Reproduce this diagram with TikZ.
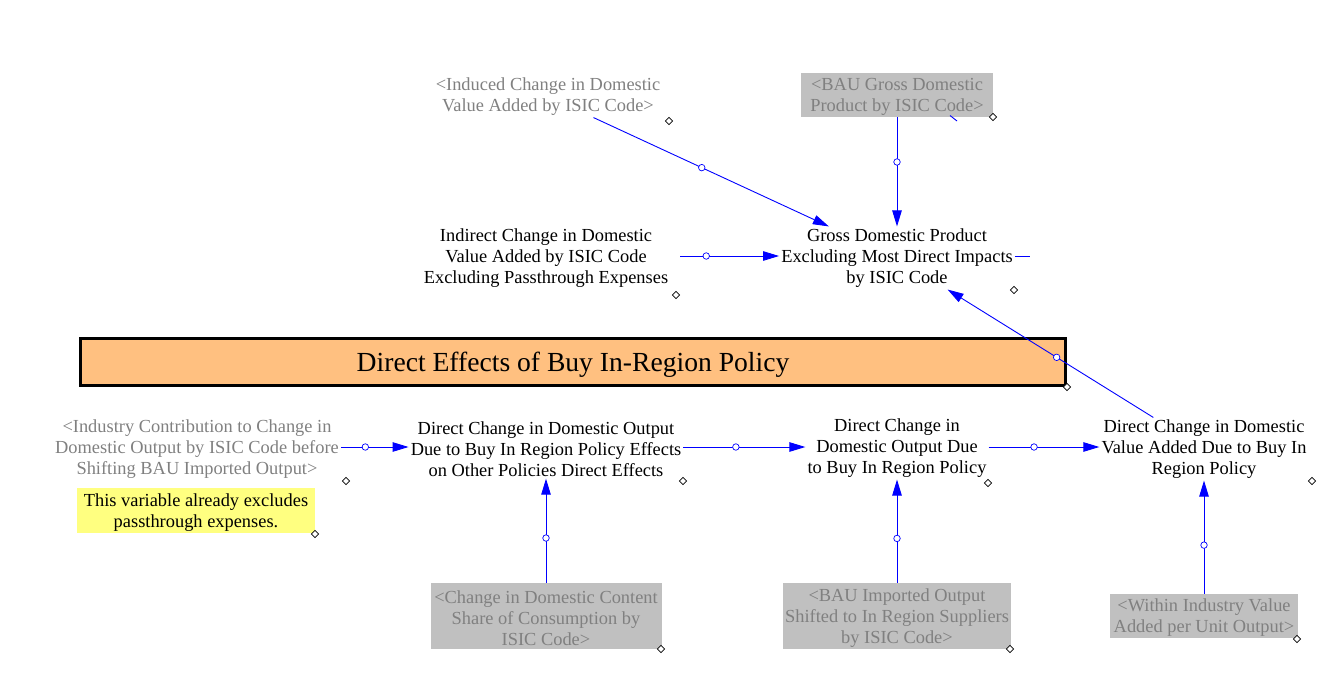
\documentclass[tikz,border=0pt]{standalone}
\usepackage{fontspec}
\setmainfont{Liberation Serif}
\usetikzlibrary{arrows.meta,shapes.geometric,calc}
\definecolor{vblue}{RGB}{0,0,255}
\definecolor{shadowtext}{RGB}{128,128,128}
\definecolor{shadowfill}{RGB}{192,192,192}
\definecolor{notefill}{RGB}{255,255,128}
\definecolor{titlefill}{RGB}{255,192,128}
\tikzset{
  var/.style={font=\fontsize{18.4bp}{21bp}\selectfont, align=center, inner sep=2bp},
  shadowvar/.style={var, text=shadowtext},
  graybox/.style={fill=shadowfill, inner sep=0pt},
  yellowbox/.style={fill=notefill, inner sep=0pt},
  titlebox/.style={draw=black, line width=3bp, fill=titlefill, inner sep=0pt},
  titletext/.style={font=\fontsize{27.6bp}{30bp}\selectfont, inner sep=0pt},
  conn/.style={draw=vblue, line width=0.9bp, -{Triangle[length=16bp,width=9.5bp]}},
  stub/.style={draw=vblue, line width=0.9bp},
  midc/.style={circle, draw=vblue, fill=white, line width=0.7bp, minimum size=6.5bp, inner sep=0pt},
  hdl/.style={diamond, draw=black, fill=white, line width=0.6bp, minimum size=7.5bp, inner sep=0pt},
}
\begin{document}
\begin{tikzpicture}[x=1bp,y=-1bp]
\useasboundingbox (0,0) rectangle (1335,686);

% title box
\node[titlebox, minimum width=985bp, minimum height=47bp] (titlebg) at (573,362) {};
\node[titletext] (title) at (573,365) {Direct Effects of Buy In-Region Policy};

% box backgrounds
\node[graybox, minimum width=192bp, minimum height=44bp] (baugdpbox) at (897,95) {};
\node[yellowbox, minimum width=238bp, minimum height=45bp] (notebox) at (196,510.5) {};
\node[graybox, minimum width=231bp, minimum height=66bp] (contentbox) at (546,616) {};
\node[graybox, minimum width=228bp, minimum height=66bp] (bauimpbox) at (897,616) {};
\node[graybox, minimum width=188bp, minimum height=44bp] (withinbox) at (1204,616) {};

% variables
\node[shadowvar] (induced) at (548,96.5) {<Induced Change in Domestic\\Value Added by ISIC Code>};
\node[shadowvar] (baugdp) at (897,97) {<BAU Gross Domestic\\Product by ISIC Code>};
\node[var] (indirect) at (546,258) {Indirect Change in Domestic\\Value Added by ISIC Code\\Excluding Passthrough Expenses};
\node[var] (gdp) at (897,258) {Gross Domestic Product\\Excluding Most Direct Impacts\\by ISIC Code};
\node[shadowvar] (ind) at (197,449) {<Industry Contribution to Change in\\Domestic Output by ISIC Code before\\Shifting BAU Imported Output>};
\node[var] (note) at (196,512.5) {This variable already excludes\\passthrough expenses.};
\node[var] (deo) at (546,449) {Direct Change in Domestic Output\\Due to Buy In Region Policy Effects\\on Other Policies Direct Effects};
\node[var] (dout) at (897,448) {Direct Change in\\Domestic Output Due\\to Buy In Region Policy};
\node[var] (dva) at (1204,449) {Direct Change in Domestic\\Value Added Due to Buy In\\Region Policy};
\node[shadowvar] (content) at (546,618) {<Change in Domestic Content\\Share of Consumption by\\ISIC Code>};
\node[shadowvar] (bauimp) at (897,618) {<BAU Imported Output\\Shifted to In Region Suppliers\\by ISIC Code>};
\node[shadowvar] (within) at (1204,618) {<Within Industry Value\\Added per Unit Output>};

% connectors
\draw[conn] (induced) -- node[midc, pos=0.46] (m1) {} (gdp);
\draw[conn] (baugdpbox) -- node[midc, pos=0.41] (m2) {} (gdp);
\draw[conn, shorten <=10bp] ([yshift=2bp]indirect.east) -- node[midc, pos=0.33] (m3) {} ([yshift=2bp]gdp.west);
\draw[conn] (dva) -- node[midc, pos=0.47] (m4) {} (gdp);
\draw[conn] ([yshift=2bp]ind.east) -- node[midc, pos=0.36] (m5) {} ([yshift=2bp]deo.west);
\draw[conn] ([yshift=2bp]deo.east) -- node[midc, pos=0.43] (m6) {} ([yshift=2bp]deo.east -| dout.west);
\draw[conn] ([yshift=2bp]deo.east -| dout.east) -- node[midc, pos=0.41] (m7) {} ([yshift=2bp]dva.west);
\draw[conn] (contentbox) -- node[midc, pos=0.43] (m8) {} (deo);
\draw[conn] (bauimpbox) -- node[midc, pos=0.43] (m9) {} (dout);
\draw[conn] (withinbox) -- node[midc, pos=0.43] (m10) {} (dva);

% stray stubs
\coordinate (gdpstub) at (1030,256);
\draw[stub] (gdp.east |- gdpstub) -- (gdpstub);
\coordinate (baustubA) at (950,115.5);
\coordinate (baustubB) at (957,121);
\draw[stub] (baustubA) -- (baustubB);

% handles
\node[hdl] (h1) at (669,121) {};
\node[hdl] (h2) at (993,117) {};
\node[hdl] (h3) at (676,295) {};
\node[hdl] (h4) at (1014,290) {};
\node[hdl] (h5) at (1067,387) {};
\node[hdl] (h6) at (346,481) {};
\node[hdl] (h7) at (315,534) {};
\node[hdl] (h8) at (683,481) {};
\node[hdl] (h9) at (988,483) {};
\node[hdl] (h10) at (1312,481) {};
\node[hdl] (h11) at (661,649) {};
\node[hdl] (h12) at (1010,649) {};
\node[hdl] (h13) at (1297,639) {};
\end{tikzpicture}
\end{document}
